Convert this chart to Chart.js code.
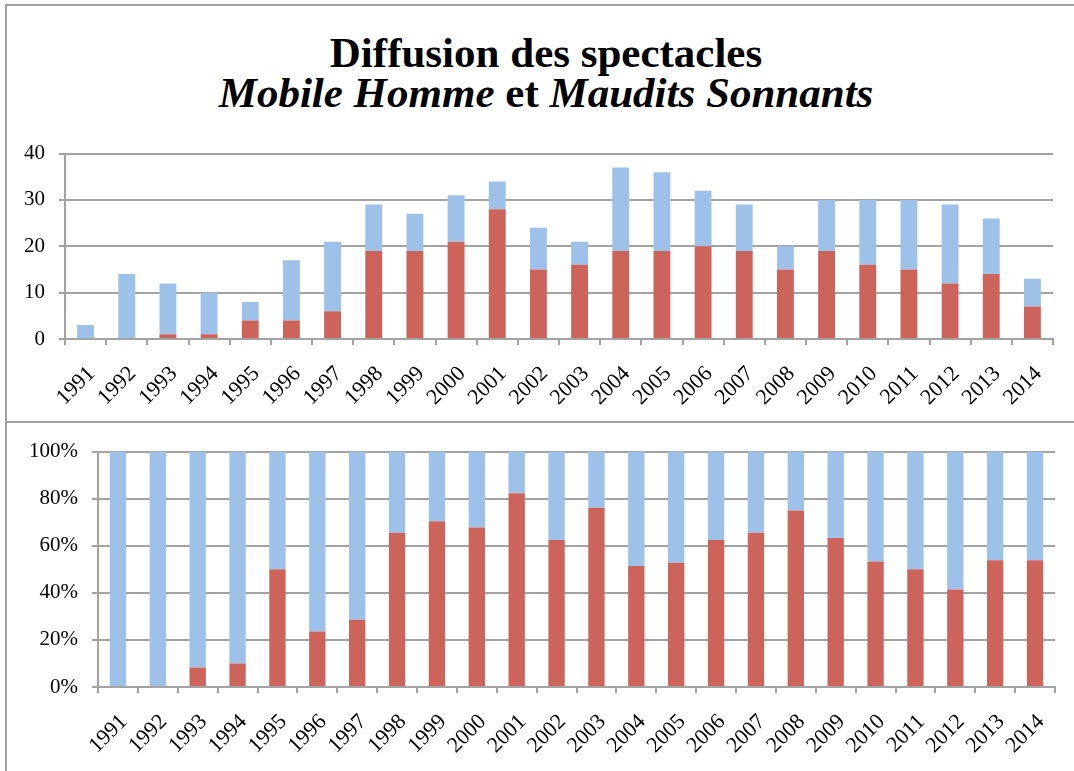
<!DOCTYPE html>
<html>
<head>
<meta charset="utf-8">
<script src="https://cdn.jsdelivr.net/npm/chart.js@4"></script>
<style>
  body { margin: 0; background: #fff; }
  #frame { position: absolute; left: 5px; top: 4px; width: 1080px; height: 780px;
           border-left: 2px solid #a3a3a3; border-top: 2px solid #a3a3a3; }
  #divider { position: absolute; left: 5px; top: 421px; width: 1080px; height: 0;
             border-top: 2px solid #a3a3a3; }
  #title { position: absolute; left: 0; top: 33px; width: 1092px; text-align: center;
           font-family: "Liberation Serif", serif; font-weight: bold; font-size: 43px;
           line-height: 40px; color: #000; }
  canvas { position: absolute; left: 0; }
  #topChart { top: 127px; }
  #bottomChart { top: 425px; }
</style>
</head>
<body>
<div id="frame"></div>
<div id="divider"></div>
<div id="title">Diffusion des spectacles<br><i>Mobile Homme</i> et <i>Maudits Sonnants</i></div>
<canvas id="topChart" width="1074" height="296"></canvas>
<canvas id="bottomChart" width="1074" height="346"></canvas>
<script>
const years = ['1991', '1992', '1993', '1994', '1995', '1996', '1997', '1998', '1999', '2000',
    '2001', '2002', '2003', '2004', '2005', '2006', '2007', '2008', '2009', '2010',
    '2011', '2012', '2013', '2014'];
// Maudits Sonnants (red) and Mobile Homme (blue), number of shows per year
const maudits = [0, 0, 1, 1, 4, 4, 6, 19, 19, 21, 28, 15, 16, 19, 19, 20, 19, 15, 19, 16, 15, 12, 14, 7];
const mobile = [3, 14, 11, 9, 4, 13, 15, 10, 8, 10, 6, 9, 5, 18, 17, 12, 10, 5, 11, 14, 15, 17, 12, 6];
const countTicks = [0, 10, 20, 30, 40];
const percentTicks = [0, 20, 40, 60, 80, 100];

const red = '#cc645c';
const blue = '#9dc1e9';
const gridColor = '#a3a3a3';
const tickFont = { family: 'Liberation Serif', size: 21 };
const xFont = { family: 'Liberation Serif', size: 22 };

// share of each show in the yearly total
const mauditsPct = maudits.map((v, i) => v / (v + mobile[i]) * 100);
const mobilePct = mobile.map((v, i) => v / (v + maudits[i]) * 100);

function buildOptions(ticks, yWidth, xHeight, padding, suffix) {
    return {
        responsive: false,
        animation: false,
        layout: { padding: padding },
        plugins: { legend: { display: false }, tooltip: { enabled: false } },
        scales: {
            x: {
                stacked: true,
                offset: true,
                grid: { display: true, drawOnChartArea: false, drawTicks: true, tickLength: 6,
                        color: gridColor, lineWidth: 2 },
                border: { color: gridColor, width: 2 },
                ticks: { color: '#000', font: xFont, minRotation: 45, maxRotation: 45,
                         autoSkip: false, padding: 16, labelOffset: 6 },
                afterFit: s => { s.height = xHeight; }
            },
            y: {
                stacked: true,
                min: ticks[0],
                max: ticks[ticks.length - 1],
                afterBuildTicks: s => { s.ticks = ticks.map(v => ({ value: v })); },
                grid: { color: gridColor, lineWidth: 2, tickLength: 6 },
                border: { color: gridColor, width: 2 },
                ticks: { color: '#000', font: tickFont, padding: 14, callback: v => v + suffix },
                afterFit: s => { s.width = yWidth; }
            }
        }
    };
}

function datasets(a, b) {
    return [
        { label: 'Maudits Sonnants', data: a, backgroundColor: red,
          barPercentage: 0.41, categoryPercentage: 1 },
        { label: 'Mobile Homme', data: b, backgroundColor: blue,
          barPercentage: 0.41, categoryPercentage: 1 }
    ];
}

new Chart(document.getElementById('topChart'), {
    type: 'bar',
    data: { labels: years, datasets: datasets(maudits, mobile) },
    options: buildOptions(countTicks, 65, 84, { top: 0, right: 21, bottom: 0, left: 0 }, '')
});

new Chart(document.getElementById('bottomChart'), {
    type: 'bar',
    data: { labels: years, datasets: datasets(mauditsPct, mobilePct) },
    options: buildOptions(percentTicks, 98, 84, { top: 26, right: 19, bottom: 0, left: 0 }, '%')
});
</script>
</body>
</html>
